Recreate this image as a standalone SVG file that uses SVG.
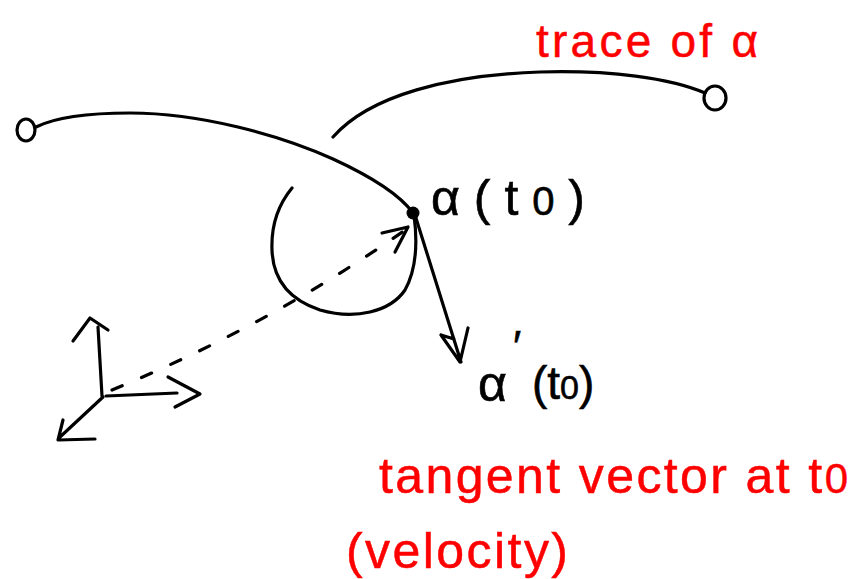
<svg xmlns="http://www.w3.org/2000/svg" width="858" height="579" viewBox="0 0 858 579">
<style>
.ink{fill:none;stroke:#000;stroke-width:3.2;stroke-linecap:round;stroke-linejoin:round}
.dash{stroke-dasharray:11 21}
.lbl{font-family:"Liberation Sans","DejaVu Sans",sans-serif;fill:#000;stroke:#000;stroke-width:0.6}
.red{font-family:"Liberation Sans","DejaVu Sans",sans-serif;fill:#f00;stroke:#f00;stroke-width:0.5}
</style>
<rect width="858" height="579" fill="#fff"/>
<g id="trace">
<ellipse class="ink" cx="26" cy="130" rx="9" ry="11"/>
<path class="ink" d="M36,127 C60,115 100,113 130,113 C200,113 280,135 333,159 C370,176 400,195 413,213"/>
<path class="ink" d="M292,188 C278,205 271,225 272,250 C273,280 290,300 320,310 C355,320 390,312 405,290 C415,272 418,245 414,215"/>
<path class="ink" d="M333,137 C370,95 450,75 540,72 C610,70 670,78 705,93"/>
<ellipse class="ink" cx="715" cy="98" rx="11" ry="12"/>
<circle cx="413" cy="213" r="6.5" fill="#000"/>
</g>
<g id="axes">
<path class="ink" d="M102,396 L98,327 M73,341 L90,318 L108,330"/>
<path class="ink" d="M106,396 L177,393 M168,377 L200,394 L175,407"/>
<path class="ink" d="M103,397 L60,437 M63,420 L58,440 L95,439"/>
</g>
<g id="connectors">
<path class="ink dash" d="M112,390 Q270,325 408,228"/>
<path class="ink" d="M382,233 L408,227 L395,252"/>
<path class="ink" d="M415,215 L461,362 M441,335 L460,362 L468,328 M441,335 L454,339"/>
</g>
<g id="label-alpha-t0">
<text class="lbl" x="431" y="215" font-size="50" textLength="154" lengthAdjust="spacing">α(t<tspan font-size="40">0</tspan>)</text>
</g>
<g id="label-alpha-prime">
<text class="lbl" x="478" y="401" font-size="50">α<tspan x="513" y="362" font-size="44">′</tspan><tspan x="532" y="399" font-size="46">(t<tspan font-size="34">0</tspan>)</tspan></text>
</g>
<g id="label-trace">
<text class="red" x="536" y="57" font-size="46" textLength="222" lengthAdjust="spacing">trace of α</text>
</g>
<g id="label-tangent">
<text class="red" x="379" y="493" font-size="50" textLength="469" lengthAdjust="spacing">tangent vector at t<tspan font-size="42">0</tspan></text>
<text class="red" x="346" y="568" font-size="50" textLength="222" lengthAdjust="spacing">(velocity)</text>
</g>
</svg>
